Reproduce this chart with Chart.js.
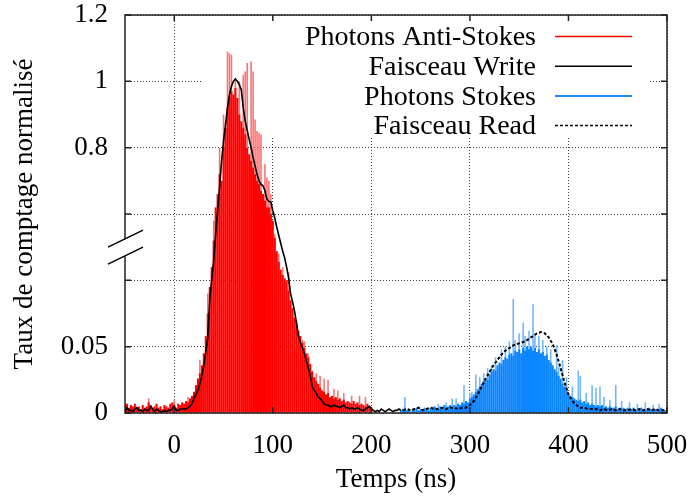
<!DOCTYPE html>
<html><head><meta charset="utf-8">
<script src="https://cdn.jsdelivr.net/npm/chart.js@4.4.1/dist/chart.umd.min.js"></script>
<style>html,body{margin:0;padding:0;background:#fff}#wrap{width:693px;height:500px}</style>
</head><body><div id="wrap"><canvas id="c" width="693" height="500"></canvas></div>
<script>
// ---------- data (normalised counting rate) ----------
const xTicks = [0, 100, 200, 300, 400, 500];
const yTickValues = [0, 0.05, 0.1, 0.6, 0.8, 1.0, 1.2];
const yTickLabels = ['0', '0.05', '', '', '0.8', '1', '1.2'];

// Photons Anti-Stokes histogram: bins of 2 ns starting at -50 ns
const redStart = -50, redStep = 2;
const redValues = [
 0.006,0.007,0.004,0.006,0.005,0.007,0.004,0.005,0.003,0.006,
 0.004,0.005,0.008,0.006,0.004,0.005,0.007,0.004,0.005,0.003,
 0.006,0.005,0.004,0.007,0.008,0.006,0.004,0.007,0.006,0.008,
 0.007,0.009,0.008,0.011,0.013,0.016,0.021,0.026,0.030,0.036,
 0.045,0.058,0.075,0.095,0.20,0.40,0.62,0.66,0.72,0.70,
 0.80,0.86,0.92,0.95,0.97,0.96,0.98,0.95,0.90,0.88,
 0.86,0.84,0.80,0.78,0.76,0.74,0.72,0.70,0.69,0.67,
 0.66,0.64,0.62,0.62,0.60,0.55,0.42,0.32,0.24,0.18,
 0.14,0.115,0.10,0.092,0.085,0.079,0.072,0.068,0.062,0.058,
 0.053,0.049,0.045,0.042,0.037,0.031,0.027,0.024,0.022,0.019,
 0.017,0.016,0.014,0.015,0.012,0.013,0.011,0.012,0.010,0.011,
 0.009,0.010,0.008,0.009,0.008,0.007,0.009,0.007,0.008,0.006,
 0.007,0.006,0.005,0.007,0.005,0.004
];
// isolated taller counts (lighter tops)
const redSpikeT = [-26,0,14,22,26,34,40,46,50,54,56,58,62,66,70,72,74,78,80,82,84,86,88,92,94,96,98,102,106,110,116,124,130,132,136,140,144,148,152,156,162,166,172,180,188,194];
const redSpikeV = [0.011,0.010,0.012,0.020,0.040,0.090,0.55,0.80,0.90,1.09,1.085,1.08,1.01,1.00,1.02,1.03,1.055,1.06,1.03,0.885,0.85,0.845,0.84,0.75,0.71,0.70,0.66,0.45,0.30,0.20,0.16,0.07,0.055,0.054,0.045,0.032,0.03,0.028,0.026,0.025,0.018,0.017,0.015,0.013,0.013,0.012];

// Photons Stokes histogram: bins of 2 ns starting at 230 ns
const blueStart = 230, blueStep = 2;
const blueValues = [
 0.002,0.003,0.004,0.002,0.003,0.001,0.003,0.002,0.004,0.002,
 0.003,0.002,0.004,0.003,0.002,0.004,0.003,0.005,0.004,0.003,
 0.005,0.004,0.006,0.004,0.005,0.006,0.004,0.006,0.005,0.007,
 0.006,0.008,0.007,0.009,0.008,0.011,0.012,0.014,0.016,0.018,
 0.020,0.022,0.024,0.026,0.025,0.029,0.031,0.033,0.032,0.036,
 0.038,0.037,0.040,0.042,0.041,0.044,0.045,0.043,0.047,0.046,
 0.048,0.045,0.049,0.047,0.050,0.048,0.050,0.047,0.049,0.046,
 0.048,0.045,0.046,0.043,0.044,0.040,0.038,0.036,0.033,0.031,
 0.028,0.026,0.022,0.020,0.017,0.015,0.013,0.012,0.011,0.010,
 0.009,0.010,0.008,0.009,0.007,0.008,0.006,0.007,0.006,0.005,
 0.006,0.005,0.006,0.004,0.005,0.004,0.005,0.004,0.004,0.005,
 0.003,0.004,0.003,0.004,0.003,0.004,0.003,0.003,0.004,0.003,
 0.002,0.003,0.004,0.003,0.002,0.003,0.004,0.003,0.002,0.003,
 0.003,0.002,0.004,0.003,0.002,0.003
];
const blueSpikeT = [234,268,276,282,286,294,300,302,306,310,314,318,322,326,332,336,340,344,346,350,354,356,360,364,366,370,374,378,382,388,390,394,398,404,410,412,418,424,428,432,436,442,448,454,462,470,478,486,492];
const blueSpikeV = [0.012,0.007,0.008,0.011,0.011,0.021,0.015,0.016,0.029,0.027,0.030,0.034,0.036,0.042,0.048,0.050,0.054,0.086,0.055,0.060,0.068,0.058,0.062,0.082,0.060,0.058,0.055,0.050,0.048,0.051,0.035,0.040,0.027,0.020,0.032,0.028,0.015,0.021,0.019,0.020,0.012,0.010,0.021,0.009,0.008,0.007,0.008,0.006,0.007];

// Faisceau Write: samples every 2 ns from -50 ns
const writeStart = -50, writeStep = 2;
const writeValues = [
 0.001,0.004,0.002,0.002,0.001,0.003,0.004,0.002,0.002,0.001,
 0.003,0.002,0.002,0.005,0.003,0.001,0.003,0.002,0.001,0.001,
 0.002,0.001,0.002,0.002,0.003,0.005,0.002,0.002,0.003,0.003,
 0.003,0.003,0.004,0.005,0.007,0.011,0.014,0.017,0.022,0.028,
 0.036,0.046,0.057,0.085,0.11,0.25,0.45,0.61,0.68,0.76,
 0.82,0.87,0.92,0.96,0.985,1.0,1.007,1.0,0.99,0.975,
 0.92,0.88,0.853,0.825,0.80,0.77,0.745,0.72,0.70,0.69,
 0.685,0.67,0.645,0.638,0.636,0.61,0.57,0.50,0.44,0.38,
 0.32,0.27,0.20,0.12,0.09,0.084,0.077,0.068,0.058,0.053,
 0.049,0.045,0.039,0.034,0.028,0.020,0.017,0.015,0.012,0.011,
 0.009,0.007,0.006,0.006,0.005,0.005,0.006,0.005,0.005,0.004,
 0.005,0.006,0.004,0.004,0.003,0.004,0.003,0.003,0.004,0.003,
 0.002,0.002,0.003,0.004,0.005,0.003,0.002,0.001,0.002,0.001,
 0.003,0.002,0.001,0.002,0.003,0.002,0.001,0.002,0.002,0.003,
 0.002
];
// Faisceau Read: samples every 4 ns from 232 ns
const readStart = 232, readStep = 4;
const readValues = [
 0.002,0.003,0.002,0.003,0.004,0.002,0.003,0.004,0.003,0.003,
 0.004,0.003,0.004,0.004,0.003,0.004,0.004,0.006,0.009,0.014,
 0.020,0.026,0.031,0.036,0.040,0.044,0.047,0.049,0.051,0.052,
 0.053,0.054,0.056,0.058,0.060,0.061,0.060,0.057,0.052,0.044,
 0.034,0.023,0.014,0.009,0.006,0.004,0.004,0.003,0.003,0.003,
 0.002,0.003,0.002,0.003,0.002,0.003,0.002,0.002,0.003,0.002,
 0.003,0.002,0.003,0.002,0.003,0.002,0.002,0.003
];

// ---------- broken axis transform ----------
function toAxis(v){
  if (v <= 0.1) return v / 0.05;
  if (v <= 0.6) return 2 + (v - 0.1) / 0.5;
  return 3 + (v - 0.6) / 0.2;
}
const series = (start, step, vals) => vals.map((v, i) => ({x: start + i * step, y: toAxis(v)}));
const pairs = (ts, vs) => ts.slice(0, Math.min(ts.length, vs.length)).map((t, i) => ({x: t, y: toAxis(vs[i])}));

const FONT = '"Liberation Serif", "Times New Roman", serif';
Chart.defaults.font.family = FONT;
Chart.defaults.font.size = 27;
Chart.defaults.color = '#000';

const legendItems = [
  {label: 'Photons Anti-Stokes', color: '#ff0000', dash: [], width: 1.5},
  {label: 'Faisceau Write', color: '#000000', dash: [], width: 1.5},
  {label: 'Photons Stokes', color: '#1a8cff', dash: [], width: 2},
  {label: 'Faisceau Read', color: '#000000', dash: [3, 2], width: 1.5}
];

const keyBoxPlugin = {
  id: 'keyBox',
  beforeDatasetsDraw(chart){
    const a = chart.chartArea, ctx = chart.ctx;
    ctx.save();
    ctx.fillStyle = '#fff';
    ctx.fillRect(a.left + 78, a.top + 1, (a.right - 17) - (a.left + 78), 122);
    ctx.restore();
  }
};

const framePlugin = {
  id: 'frame',
  afterDatasetsDraw(chart){
    const a = chart.chartArea, ctx = chart.ctx;
    const xs = chart.scales.x, ys = chart.scales.y;
    ctx.save();
    ctx.strokeStyle = '#222';
    ctx.lineWidth = 1.5;
    ctx.setLineDash([]);
    ctx.strokeRect(a.left, a.top, a.right - a.left, a.bottom - a.top);
    const tl = 6;
    ctx.beginPath();
    xTicks.forEach(t => {
      const px = xs.getPixelForValue(t);
      ctx.moveTo(px, a.bottom); ctx.lineTo(px, a.bottom - tl);
      ctx.moveTo(px, a.top); ctx.lineTo(px, a.top + tl);
    });
    yTickValues.forEach(v => {
      const py = ys.getPixelForValue(toAxis(v));
      ctx.moveTo(a.left, py); ctx.lineTo(a.left + tl, py);
      ctx.moveTo(a.right, py); ctx.lineTo(a.right - tl, py);
    });
    ctx.stroke();
    // axis break marks
    const mid = ys.getPixelForValue(2.5);
    ctx.fillStyle = '#fff';
    ctx.fillRect(a.left - 3, mid - 8, 6, 17);
    ctx.strokeStyle = '#000';
    ctx.lineWidth = 1.5;
    ctx.beginPath();
    ctx.moveTo(a.left - 17, mid); ctx.lineTo(a.left + 18, mid - 17);
    ctx.moveTo(a.left - 17, mid + 17); ctx.lineTo(a.left + 18, mid);
    ctx.stroke();
    ctx.restore();
  },
  afterDraw(chart){
    const a = chart.chartArea, ctx = chart.ctx;
    ctx.save();
    ctx.font = '28px ' + FONT;
    ctx.textAlign = 'right';
    ctx.textBaseline = 'middle';
    ctx.fillStyle = '#000';
    const textRight = a.right - 131, l0 = a.right - 112, l1 = a.right - 35;
    legendItems.forEach((it, i) => {
      const y = a.top + 23 + i * 29.7;
      ctx.fillText(it.label, textRight, y);
      ctx.strokeStyle = it.color;
      ctx.lineWidth = it.width;
      ctx.setLineDash(it.dash);
      ctx.beginPath();
      ctx.moveTo(l0, y - 1.5); ctx.lineTo(l1, y - 1.5);
      ctx.stroke();
    });
    ctx.restore();
  }
};

new Chart(document.getElementById('c'), {
  type: 'bar',
  data: {
    datasets: [
      {type: 'line', label: 'Faisceau Write', data: series(writeStart, writeStep, writeValues),
       borderColor: '#000', borderWidth: 1.6, pointRadius: 0, tension: 0, fill: false},
      {type: 'line', label: 'Faisceau Read', data: series(readStart, readStep, readValues),
       borderColor: '#000', borderWidth: 2, borderDash: [3, 2], pointRadius: 0, tension: 0, fill: false},
      {label: 'Photons Anti-Stokes', data: series(redStart, redStep, redValues),
       backgroundColor: '#ff0000', borderWidth: 0, barPercentage: 1.05, categoryPercentage: 1, grouped: false},
      {label: 'Photons Stokes', data: series(blueStart, blueStep, blueValues),
       backgroundColor: '#0a84ff', borderWidth: 0, barPercentage: 1.05, categoryPercentage: 1, grouped: false},
      {label: 'Anti-Stokes spikes', data: pairs(redSpikeT, redSpikeV),
       backgroundColor: '#ff7070', borderWidth: 0, barPercentage: 0.8, categoryPercentage: 1, grouped: false},
      {label: 'Stokes spikes', data: pairs(blueSpikeT, blueSpikeV),
       backgroundColor: '#6fb6ff', borderWidth: 0, barPercentage: 0.8, categoryPercentage: 1, grouped: false}
    ]
  },
  options: {
    responsive: false,
    animation: false,
    layout: {padding: {left: 0, right: 26, top: 15, bottom: 0}},
    plugins: {legend: {display: false}, tooltip: {enabled: false}},
    scales: {
      x: {
        type: 'linear', min: -50, max: 500, offset: false,
        afterBuildTicks(s){ s.ticks = xTicks.map(v => ({value: v})); },
        afterFit(s){ s.height = 87; s.paddingLeft = 0; s.paddingRight = 0; },
        grid: {offset: false, color: 'rgba(0,0,0,0.75)', lineWidth: 1, drawTicks: false},
        border: {display: false, dash: [1, 2]},
        ticks: {padding: 17, maxRotation: 0, autoSkip: false},
        title: {display: true, text: 'Temps (ns)', padding: {top: 0, bottom: 4}}
      },
      y: {
        type: 'linear', min: 0, max: 6, stacked: false,
        afterBuildTicks(s){ s.ticks = yTickValues.map(v => ({value: toAxis(v)})); },
        afterFit(s){ s.width = 125; s.paddingTop = 0; s.paddingBottom = 0; },
        grid: {color: 'rgba(0,0,0,0.75)', lineWidth: 1, drawTicks: false},
        border: {display: false, dash: [1, 2]},
        ticks: {padding: 17, autoSkip: false, callback: (val, idx) => yTickLabels[idx]},
        title: {display: true, text: 'Taux de comptage normalisé', padding: {top: 9, bottom: 0}}
      }
    }
  },
  plugins: [keyBoxPlugin, framePlugin]
});
</script></body></html>
